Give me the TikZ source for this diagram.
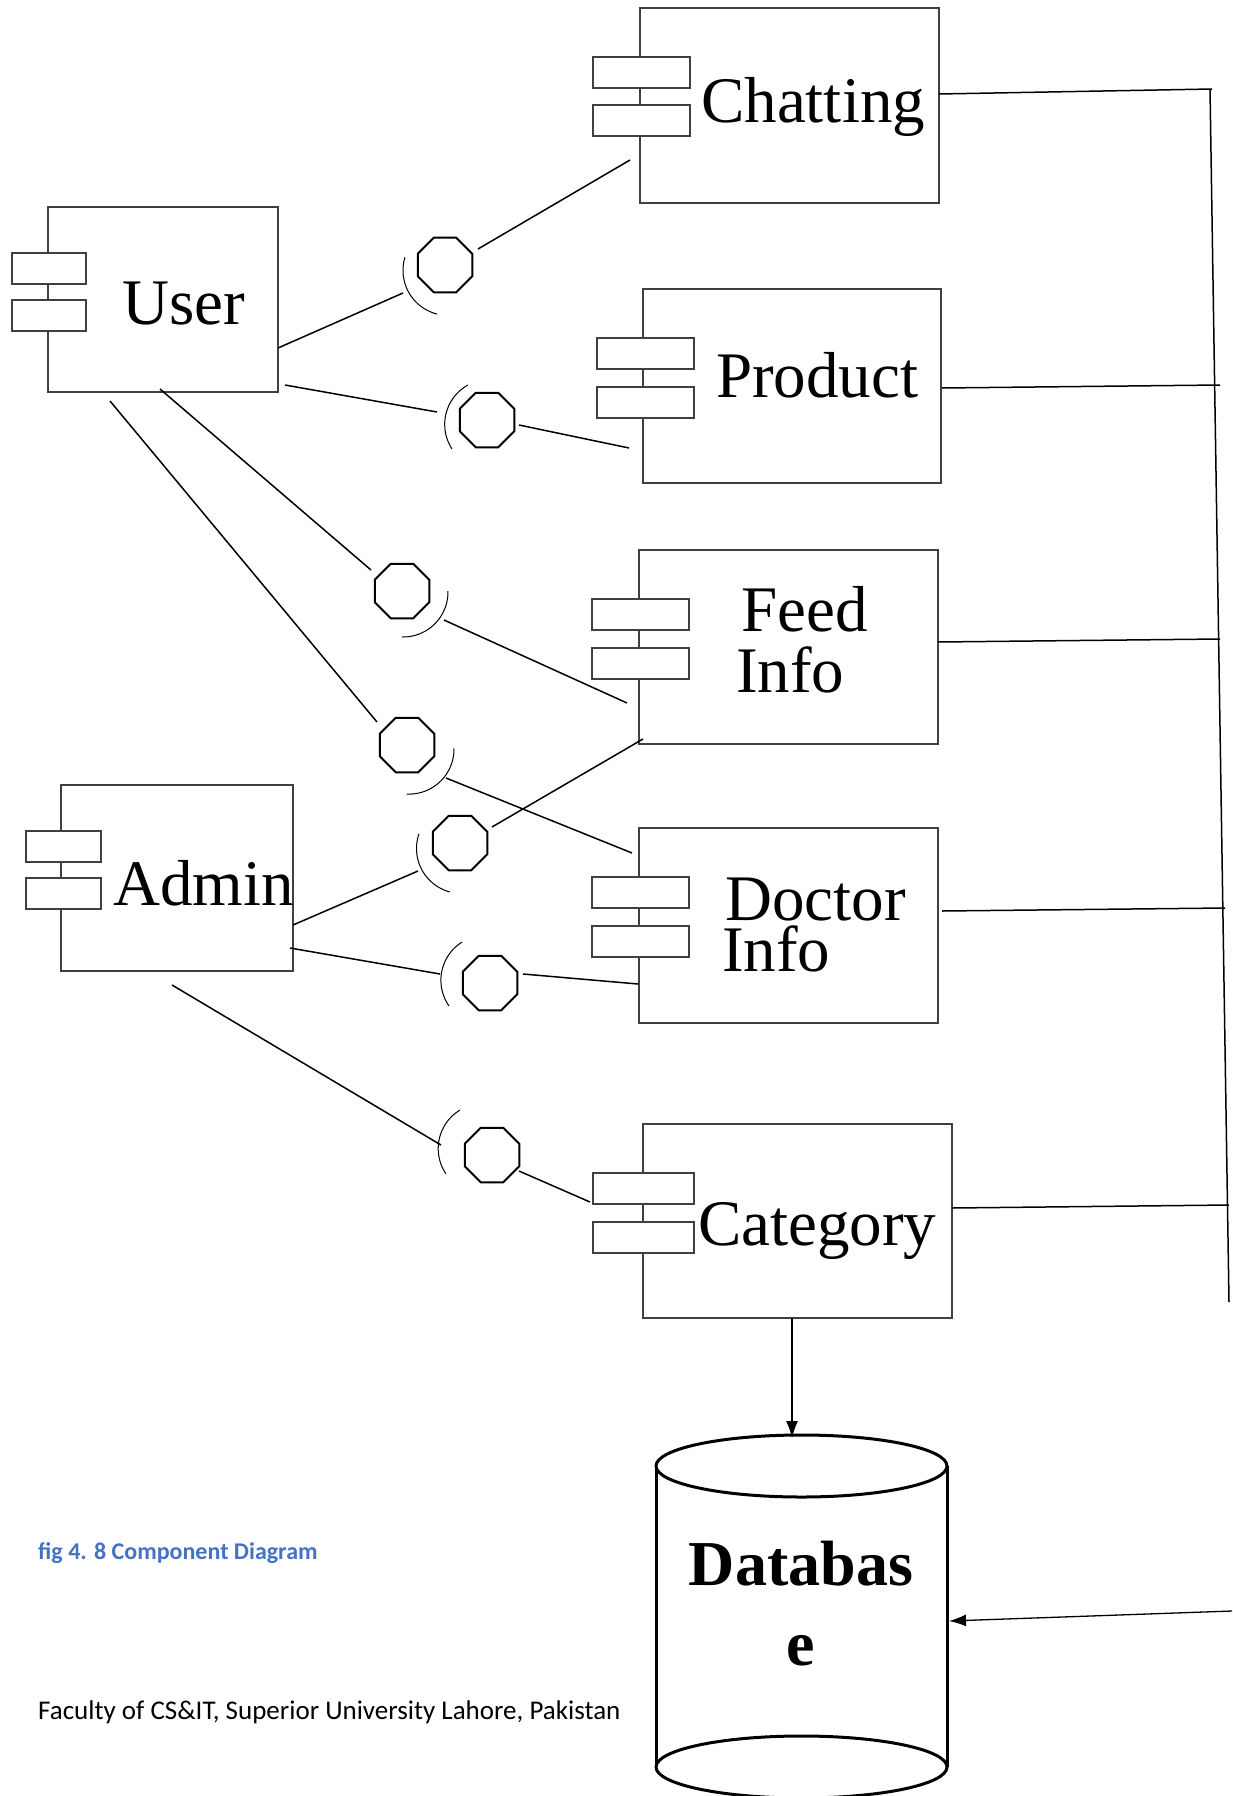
\documentclass[tikz,border=0pt]{standalone}
\usepackage{fontspec}
\setmainfont{Liberation Serif}
\newfontfamily\calib{Carlito}
\usetikzlibrary{shapes.geometric,arrows.meta}
\definecolor{capblue}{HTML}{4472C4}
\definecolor{boxgray}{HTML}{404040}
\tikzset{
  compbox/.style={draw=boxgray, line width=2pt, fill=white, inner sep=0pt, outer sep=0pt},
  tabbox/.style={draw=boxgray, line width=2pt, fill=white, inner sep=0pt, outer sep=0pt, minimum width=97pt, minimum height=31pt},
  lbl/.style={anchor=base west, inner sep=0pt, font=\fontsize{65}{65}\selectfont},
  octa/.style={draw, line width=2pt, regular polygon, regular polygon sides=8, minimum size=59pt, inner sep=0pt},
  wire/.style={draw, line width=1.5pt},
  sock/.style={draw, line width=1pt},
  bus/.style={draw, line width=1.5pt},
  dbline/.style={draw, line width=3pt},
  arr/.style={draw, line width=1.3pt, -{Latex[length=17pt,width=12pt]}}
}
\begin{document}
\begin{tikzpicture}[x=1pt,y=-1pt]
\useasboundingbox (0,0) rectangle (1232,1796);

% ---------- components ----------
% Chatting
\node[compbox, minimum width=299pt, minimum height=195pt] (chat) at (789.5,105.5) {};
\node[tabbox] (chatA) at (641,72.5) {};
\node[tabbox] (chatB) at (641,120.5) {};
\node[lbl] (chatT) at (701,122) {Chatting};
% User
\node[compbox, minimum width=230pt, minimum height=185pt] (user) at (163,299.5) {};
\node[tabbox, minimum width=74pt] (userA) at (49,268.5) {};
\node[tabbox, minimum width=74pt] (userB) at (49,315) {};
\node[lbl] (userT) at (122,324) {User};
% Product
\node[compbox, minimum width=298pt, minimum height=194pt] (prod) at (792,386) {};
\node[tabbox] (prodA) at (645.5,353.5) {};
\node[tabbox] (prodB) at (645.5,402.5) {};
\node[lbl] (prodT) at (716,397) {Product};
% Feed Info
\node[compbox, minimum width=299pt, minimum height=194pt] (feed) at (788.5,647) {};
\node[tabbox] (feedA) at (640.5,614.5) {};
\node[tabbox] (feedB) at (640.5,663.5) {};
\node[lbl] (feedT1) at (741,631) {Feed};
\node[lbl] (feedT2) at (736,692) {Info};
% Admin
\node[compbox, minimum width=232pt, minimum height=186pt] (admin) at (177,878) {};
\node[tabbox, minimum width=75pt] (adminA) at (63.5,846.5) {};
\node[tabbox, minimum width=75pt] (adminB) at (63.5,893.5) {};
\node[lbl] (adminT) at (113,905) {Admin};
% Doctor Info
\node[compbox, minimum width=299pt, minimum height=195pt] (doc) at (788.5,925.5) {};
\node[tabbox] (docA) at (640.5,892.5) {};
\node[tabbox] (docB) at (640.5,941.5) {};
\node[lbl] (docT1) at (725,920) {Doctor};
\node[lbl] (docT2) at (722,971) {Info};
% Category
\node[compbox, minimum width=309pt, minimum height=194pt] (cat) at (797.5,1221) {};
\node[tabbox, minimum width=101pt] (catA) at (643.5,1188.5) {};
\node[tabbox, minimum width=101pt] (catB) at (643.5,1237.5) {};
\node[lbl] (catT) at (698,1245) {Category};

% ---------- database ----------
\node[inner sep=0pt, minimum width=291pt, minimum height=363pt] (db) at (801.5,1616.5) {};
\draw[dbline] (656,1466) -- (656,1767);
\draw[dbline] (947,1466) -- (947,1767);
\draw[dbline, fill=white] (801.5,1466) ellipse [x radius=145.5, y radius=31];
\draw[dbline, fill=white] (801.5,1767) ellipse [x radius=145.5, y radius=31];
\node[anchor=base, inner sep=0pt, font=\fontsize{64}{64}\selectfont\bfseries] (dbT1) at (801,1585) {Databas};
\node[anchor=base, inner sep=0pt, font=\fontsize{64}{64}\selectfont\bfseries] (dbT2) at (801,1665) {e};

% ---------- interfaces ----------
% 1 User - Chatting
\node[octa] (i1) at (445,265) {};
\coordinate (u1) at (278,348); \coordinate (a1) at (403,293);
\coordinate (b1) at (478,249); \coordinate (c1) at (630,160);
\draw[wire] (u1) -- (a1);
\draw[wire] (b1) -- (c1);
\draw[sock] plot[domain=104:197, samples=30, smooth] ({448+45*cos(\x)},{270.4+45*sin(\x)});
% 2 User - Product
\node[octa] (i2) at (487,420) {};
\coordinate (u2) at (285,385); \coordinate (a2) at (437,412);
\coordinate (b2) at (519,425); \coordinate (c2) at (629,448);
\draw[wire] (u2) -- (a2);
\draw[wire] (b2) -- (c2);
\draw[sock] plot[domain=147:241, samples=30, smooth] ({489.7+45*cos(\x)},{424.4+45*sin(\x)});
% 3 User - Feed
\node[octa] (i3) at (402,591) {};
\coordinate (u3) at (160,389); \coordinate (a3) at (371,570);
\coordinate (b3) at (444,620); \coordinate (c3) at (627,703);
\draw[wire] (u3) -- (a3);
\draw[wire] (b3) -- (c3);
\draw[sock] plot[domain=-1:91, samples=30, smooth] ({403+45*cos(\x)},{592+45*sin(\x)});
% 4 User - Doctor
\node[octa] (i4) at (407,745) {};
\coordinate (u4) at (110,401); \coordinate (a4) at (377,722);
\coordinate (b4) at (446,778); \coordinate (c4) at (632,853);
\draw[wire] (u4) -- (a4);
\draw[wire] (b4) -- (c4);
\draw[sock] plot[domain=-1:93, samples=30, smooth] ({409+45*cos(\x)},{749.1+45*sin(\x)});
% 5 Admin - Feed
\node[octa] (i5) at (460,843) {};
\coordinate (u5) at (293,925); \coordinate (a5) at (418,871);
\coordinate (b5) at (492,827); \coordinate (c5) at (643,739);
\draw[wire] (u5) -- (a5);
\draw[wire] (b5) -- (c5);
\draw[sock] plot[domain=105:199, samples=30, smooth] ({461.5+45*cos(\x)},{848.5+45*sin(\x)});
% 6 Admin - Doctor
\node[octa] (i6) at (490,983) {};
\coordinate (u6) at (290,948); \coordinate (a6) at (440,974);
\coordinate (b6) at (523,974); \coordinate (c6) at (638,984);
\draw[wire] (u6) -- (a6);
\draw[wire] (b6) -- (c6);
\draw[sock] plot[domain=145:238, samples=30, smooth] ({485.9+45*cos(\x)},{980.2+45*sin(\x)});
% 7 Admin - Category
\node[octa] (i7) at (492,1155) {};
\coordinate (u7) at (172,985); \coordinate (a7) at (441,1145);
\coordinate (b7) at (519,1171); \coordinate (c7) at (590,1202);
\draw[wire] (u7) -- (a7);
\draw[wire] (b7) -- (c7);
\draw[sock] plot[domain=146:239, samples=30, smooth] ({483.2+45*cos(\x)},{1148.6+45*sin(\x)});

% ---------- bus to database ----------
\coordinate (busTop) at (1210,89);
\coordinate (busBot) at (1229,1302);
\draw[bus] (busTop) -- (busBot);
\draw[bus] (939,94) -- (1212,89);
\draw[bus] (942,388) -- (1220,385);
\draw[bus] (938,642) -- (1220,639);
\draw[bus] (942,911) -- (1225,908);
\draw[bus] (952,1208) -- (1229,1205);
\coordinate (busIn) at (1232,1611);
\draw[arr] (busIn) -- (949,1621);
\draw[arr] (cat.south -| 792,0) -- (792,1438);

% ---------- captions ----------
\node[anchor=base west, inner sep=0pt, text=capblue, font=\calib\bfseries\fontsize{24}{24}\selectfont] (fig) at (38,1559) {fig 4. 8 Component Diagram};
\node[anchor=base west, inner sep=0pt, font=\calib\fontsize{27}{27}\selectfont] (fac) at (38,1719) {Faculty of CS\&IT, Superior University Lahore, Pakistan};
\end{tikzpicture}
\end{document}
